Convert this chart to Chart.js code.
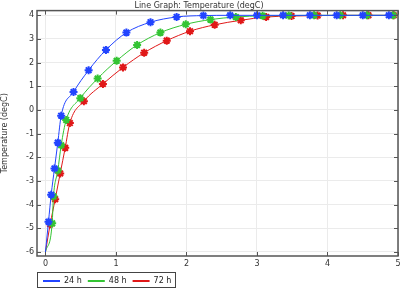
<!DOCTYPE html>
<html><head><meta charset="utf-8">
<script src="https://cdn.jsdelivr.net/npm/chart.js@4/dist/chart.umd.min.js"></script>
<style>html,body{margin:0;padding:0;background:#fff}#wrap{width:420px;height:290px}</style>
</head><body><div id="wrap"><canvas id="c" width="420" height="290"></canvas></div>
<script>
const seriesNames = ['24 h', '48 h', '72 h'];
const xTicks = [0, 1, 2, 3, 4, 5];
const yTicks = [-6, -5, -4, -3, -2, -1, 0, 1, 2, 3, 4];
const x24 = [0, 0.043, 0.081, 0.128, 0.175, 0.223, 0.398, 0.612, 0.858, 1.148, 1.49, 1.86, 2.24, 2.62, 3.0, 3.37, 3.75, 4.13, 4.50, 4.87, 5];
const y24 = [-6, -4.72, -3.58, -2.47, -1.38, -0.24, 0.76, 1.68, 2.54, 3.27, 3.71, 3.93, 3.99, 4.0, 4.0, 4.0, 4.0, 4.0, 4.0, 4.0, 4.0];
const x48 = [0, 0.095, 0.114, 0.175, 0.223, 0.294, 0.494, 0.74, 1.01, 1.30, 1.63, 1.99, 2.34, 2.70, 3.08, 3.45, 3.81, 4.18, 4.56, 4.93, 5];
const y48 = [-6, -4.79, -3.65, -2.56, -1.49, -0.42, 0.5, 1.33, 2.08, 2.75, 3.27, 3.62, 3.82, 3.93, 3.98, 3.99, 4.0, 4.0, 4.0, 4.0, 4.0];
const x72 = [0, 0.067, 0.138, 0.209, 0.28, 0.346, 0.545, 0.815, 1.10, 1.40, 1.72, 2.05, 2.40, 2.77, 3.13, 3.49, 3.86, 4.22, 4.58, 4.94, 5];
const y72 = [-6, -4.83, -3.77, -2.68, -1.6, -0.55, 0.37, 1.1, 1.8, 2.42, 2.93, 3.33, 3.6, 3.79, 3.93, 3.97, 3.99, 4.0, 4.0, 4.0, 4.0];
const colors = ['#2244ff', '#33c433', '#e01818'];

const xs = [x24, x48, x72], ys = [y24, y48, y72];
const datasets = seriesNames.map((n, i) => ({
  label: n,
  data: xs[i].map((x, j) => ({x: x, y: ys[i][j]})),
  borderColor: colors[i],
  backgroundColor: colors[i],
  borderWidth: 1,
  pointStyle: 'star',
  pointRadius: xs[i].map((x, j) => (j === 0 || j === xs[i].length - 1) ? 0 : 4),
  pointBorderWidth: 2,
  pointHoverRadius: 0,
  cubicInterpolationMode: 'monotone',
  fill: false
}));

const framePlugin = {
  id: 'frame',
  afterLayout(chart) {
    const lg = chart.legend;
    lg.left = chart.chartArea.left;
    lg.top += 5; lg.bottom += 5;
    if (lg.adjustHitBoxes) lg.adjustHitBoxes();
  },
  afterDraw(chart) {
    const ctx = chart.ctx, a = chart.chartArea;
    const xs_ = chart.scales.x, ys_ = chart.scales.y;
    ctx.save();
    ctx.strokeStyle = '#555';
    ctx.lineWidth = 1;
    ctx.beginPath();
    xTicks.forEach(v => {
      const p = Math.round(xs_.getPixelForValue(v)) + 0.5;
      ctx.moveTo(p, a.bottom); ctx.lineTo(p, a.bottom - 4);
      ctx.moveTo(p, a.top); ctx.lineTo(p, a.top + 4);
    });
    yTicks.forEach(v => {
      const p = Math.round(ys_.getPixelForValue(v)) + 0.5;
      ctx.moveTo(a.left, p); ctx.lineTo(a.left + 4, p);
      ctx.moveTo(a.right, p); ctx.lineTo(a.right - 4, p);
    });
    ctx.stroke();
    ctx.lineWidth = 1.5;
    ctx.strokeRect(a.left, a.top, a.right - a.left, a.bottom - a.top);
    const lg = chart.legend;
    let r = a.left + 135;
    const hb = lg.legendHitBoxes;
    if (hb && hb.length) {
      const last = hb[hb.length - 1];
      if (isFinite(last.left) && isFinite(last.width)) r = last.left + last.width + 4;
    }
    ctx.lineWidth = 1;
    ctx.strokeStyle = '#444';
    ctx.strokeRect(Math.round(a.left) + 0.5, 272.5, Math.round(r - a.left), 15);
    ctx.restore();
  }
};

new Chart(document.getElementById('c'), {
  type: 'line',
  data: { datasets },
  options: {
    responsive: false,
    animation: false,
    events: [],
    layout: { padding: { left: 0, right: 22, top: 0, bottom: 0 } },
    plugins: {
      title: { display: true, text: 'Line Graph: Temperature (degC)', color: '#333', font: { family: 'DejaVu Sans', size: 8, weight: 'normal' }, padding: { top: 1, bottom: 0 } },
      legend: {
        position: 'bottom', align: 'start',
        labels: { usePointStyle: true, pointStyle: 'line', pointStyleWidth: 17, boxWidth: 17, boxHeight: 8, color: '#222', font: { family: 'DejaVu Sans', size: 8 }, padding: 6 }
      },
      tooltip: { enabled: false }
    },
    scales: {
      x: {
        type: 'linear', min: -0.12, max: 5,
        afterBuildTicks: s => { s.ticks = xTicks.map(v => ({value: v})); },
        afterFit: s => { s.height = 10; },
        grid: { color: '#ebebeb', drawTicks: false },
        border: { display: false },
        ticks: { color: '#333', font: { family: 'DejaVu Sans', size: 8 }, padding: 3, maxRotation: 0 }
      },
      y: {
        type: 'linear', min: -6.17, max: 4.2,
        afterBuildTicks: s => { s.ticks = yTicks.map(v => ({value: v})); },
        afterFit: s => { s.width = 37; },
        grid: { color: '#ebebeb', drawTicks: false },
        border: { display: false },
        ticks: { color: '#333', font: { family: 'DejaVu Sans', size: 8 }, padding: 3 },
        title: { display: true, text: 'Temperature (degC)', color: '#333', font: { family: 'DejaVu Sans', size: 8 }, padding: { top: 0, bottom: 0 } }
      }
    }
  },
  plugins: [framePlugin]
});
</script>
</body></html>
